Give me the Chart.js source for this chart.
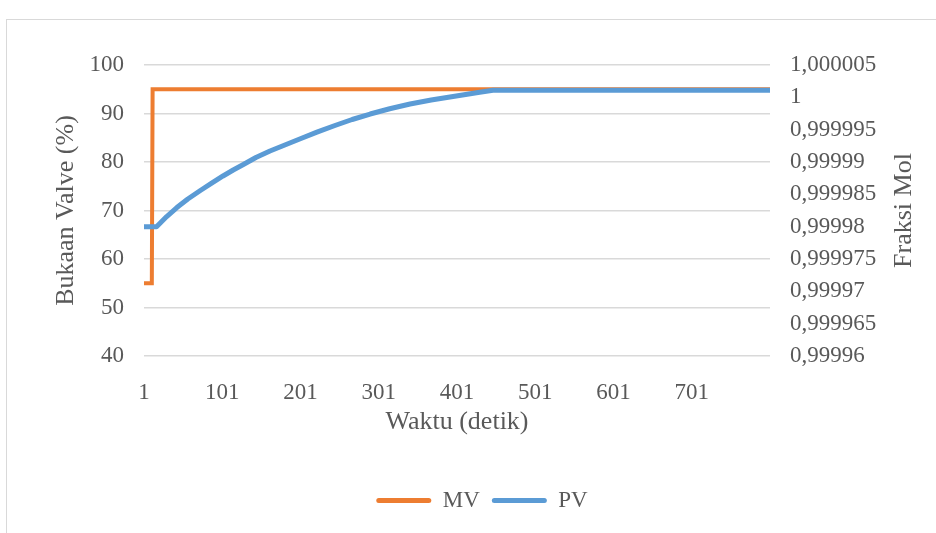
<!DOCTYPE html>
<html>
<head>
<meta charset="utf-8">
<script src="https://cdn.jsdelivr.net/npm/chart.js@4"></script>
<style>
    html, body { margin: 0; padding: 0; background: #fff; overflow: hidden; }
    #wrap { position: relative; width: 936px; height: 533px; }
    #frame { position: absolute; left: 6px; top: 19px; width: 1000px; height: 1000px; border: 1.5px solid #d9d9d9; }
    #chart { position: absolute; left: 0; top: 0; }
</style>
</head>
<body>
<div id="wrap">
    <div id="frame"></div>
    <canvas id="chart" width="936" height="533"></canvas>
</div>
<script>
// Waktu (detik) vs bukaan valve (MV) dan fraksi mol (PV)
const timeMV = [1, 11, 12, 801];
const valueMV = [55, 55, 95, 95];

const timePV = [1, 17, 30, 43, 57, 73, 87, 102, 115, 128, 144, 162, 181, 200, 222, 245, 267,
    290, 315, 341, 368, 396, 414, 430, 447, 801];
const valuePV = [0.99998, 0.99998, 0.99998157, 0.99998296, 0.99998428, 0.99998559, 0.99998668,
    0.99998784, 0.99998876, 0.99998961, 0.9999907, 0.9999917, 0.99999263, 0.99999356,
    0.99999461, 0.99999564, 0.99999657, 0.99999742, 0.99999824, 0.99999897, 0.99999959,
    1.00000013, 1.00000049, 1.00000078, 1.00000109, 1.0000011];

const xTicks = [1, 101, 201, 301, 401, 501, 601, 701];
const leftTicks = [40, 50, 60, 70, 80, 90, 100];
const rightTicks = [0.99996, 0.999965, 0.99997, 0.999975, 0.99998, 0.999985, 0.99999, 0.999995, 1, 1.000005];

const textColor = '#595959';
const serif = '"Liberation Serif", "Times New Roman", serif';
const tickFont = { family: serif, size: 23 };
const titleFont = { family: serif, size: 26 };

const toPoints = (xs, ys) => xs.map((x, i) => ({ x: x, y: ys[i] }));
const commaLabel = (v) => String(v).replace('.', ',');

// judul sumbu kanan dibaca dari bawah ke atas
const rightTitle = {
    id: 'rightTitle',
    afterDraw(chart) {
        const { ctx, chartArea } = chart;
        ctx.save();
        ctx.translate(904, (chartArea.top + chartArea.bottom) / 2);
        ctx.rotate(-Math.PI / 2);
        ctx.font = titleFont.size + 'px ' + serif;
        ctx.fillStyle = textColor;
        ctx.textAlign = 'center';
        ctx.textBaseline = 'middle';
        ctx.fillText('Fraksi Mol', 0, 0);
        ctx.restore();
    }
};

new Chart(document.getElementById('chart'), {
    type: 'line',
    data: {
        datasets: [
            {
                label: 'MV',
                data: toPoints(timeMV, valueMV),
                yAxisID: 'y',
                borderColor: '#ED7D31',
                backgroundColor: '#ED7D31',
                borderWidth: 4,
                pointRadius: 0,
                tension: 0,
                order: 2
            },
            {
                label: 'PV',
                data: toPoints(timePV, valuePV),
                yAxisID: 'y1',
                borderColor: '#5B9BD5',
                backgroundColor: '#5B9BD5',
                borderWidth: 5,
                borderCapStyle: 'round',
                borderJoinStyle: 'round',
                pointRadius: 0,
                tension: 0,
                order: 1
            }
        ]
    },
    options: {
        responsive: false,
        devicePixelRatio: 1,
        animation: false,
        layout: { padding: { top: 65, left: 28, right: 0, bottom: 11 } },
        scales: {
            x: {
                type: 'linear',
                min: 1,
                max: 801,
                afterBuildTicks: (scale) => { scale.ticks = xTicks.map(v => ({ value: v })); },
                afterFit: (scale) => { scale.height = 121; },
                grid: { display: false },
                border: { display: false },
                ticks: { font: tickFont, color: textColor, padding: 15, maxRotation: 0, autoSkip: false },
                title: { display: true, text: 'Waktu (detik)', font: titleFont, color: textColor, padding: { top: 0, bottom: 39 } }
            },
            y: {
                position: 'left',
                min: 40,
                max: 100,
                afterBuildTicks: (scale) => { scale.ticks = leftTicks.map(v => ({ value: v })); },
                afterFit: (scale) => { scale.width = 116; },
                grid: { color: '#d9d9d9', lineWidth: 1.5, drawTicks: false },
                border: { display: false },
                ticks: { font: tickFont, color: textColor, padding: 20 },
                title: { display: true, text: 'Bukaan Valve (%)', font: titleFont, color: textColor, padding: { top: 23, bottom: 0 } }
            },
            y1: {
                position: 'right',
                min: 0.99996,
                max: 1.000005,
                afterBuildTicks: (scale) => { scale.ticks = rightTicks.map(v => ({ value: v })); },
                afterFit: (scale) => { scale.width = 166; },
                grid: { display: false, drawOnChartArea: false, drawTicks: false },
                border: { display: false },
                ticks: { font: tickFont, color: textColor, padding: 20, callback: commaLabel }
            }
        },
        plugins: {
            tooltip: { enabled: false },
            legend: {
                position: 'bottom',
                labels: {
                    font: tickFont,
                    color: textColor,
                    boxWidth: 55,
                    boxHeight: 5,
                    padding: 12,
                    useBorderRadius: true,
                    borderRadius: 2.5,
                    generateLabels: (chart) => Chart.defaults.plugins.legend.labels.generateLabels(chart)
                        .map(item => Object.assign(item, { lineWidth: 0 }))
                        .sort((a, b) => a.datasetIndex - b.datasetIndex)
                }
            }
        }
    },
    plugins: [rightTitle]
});
</script>
</body>
</html>
